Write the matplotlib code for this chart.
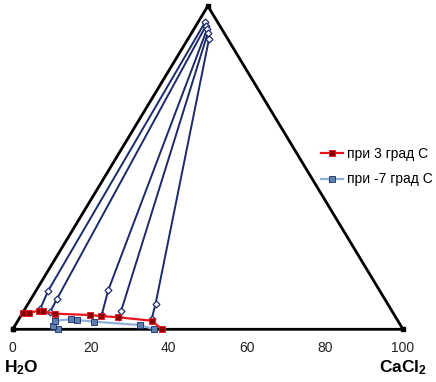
import matplotlib
matplotlib.use("Agg")
import matplotlib.pyplot as plt

plt.rcParams['font.family'] = ['Liberation Sans', 'DejaVu Sans']
plt.rcParams['mathtext.fontset'] = 'custom'
plt.rcParams['mathtext.rm'] = 'Liberation Sans:bold'
plt.rcParams['mathtext.it'] = 'Liberation Sans:bold'

# треугольник диаграммы
tri_x = [0, 100, 50, 0]
tri_y = [0, 0, 86.6, 0]

# кривая растворимости при 3 град С
red_x = [2.7, 4.3, 6.8, 7.7, 10.8, 19.8, 22.5, 27.1, 35.6, 38.3]
red_y = [4.45, 4.45, 4.98, 4.9, 4.18, 3.83, 3.56, 3.21, 2.3, 0.0]

# кривая растворимости при -7 град С
blue_x = [11.7, 10.4, 10.8, 14.9, 16.4, 20.8, 32.6, 36.2]
blue_y = [0.1, 0.96, 2.3, 2.68, 2.49, 2.04, 1.15, 0.0]

# коноды (жидкая фаза - остаток - твердая фаза)
tie_x = [[7.0, 9.1, 49.3],
         [9.6, 11.3, 49.5],
         [22.8, 24.5, 49.8],
         [27.3, 27.8, 50.0],
         [35.6, 36.6, 50.3]]
tie_y = [[5.36, 10.34, 82.3],
         [4.71, 8.04, 81.3],
         [3.83, 10.53, 80.4],
         [3.38, 4.98, 79.4],
         [2.76, 6.78, 77.8]]

ticks = [0, 20, 40, 60, 80, 100]

fig = plt.figure(figsize=(4.36, 3.82), dpi=100)
ax = fig.add_axes([12.7 / 436, 1 - 329.3 / 382, 390.3 / 436, 323.3 / 382])

ax.plot(tri_x, tri_y, color='black', lw=2, marker='s', ms=3.5, clip_on=False, zorder=2)

for tx, ty in zip(tie_x, tie_y):
    ax.plot(tx, ty, color='#1c2a6b', lw=1.4, marker='D', ms=3.5,
            mfc='white', mec='#1c2a6b', mew=0.9, clip_on=False, zorder=3)

ax.plot(red_x, red_y, color='#e8141e', lw=1.6, marker='s', ms=4.5,
        mfc='#8b0000', mec='#e8141e', mew=0.6, clip_on=False, zorder=5,
        label='при 3 град С')
ax.plot(blue_x, blue_y, color='#8fb0d8', lw=1.6, marker='s', ms=4.5,
        mfc='#5b82ad', mec='#1c2a6b', mew=0.6, clip_on=False, zorder=4,
        label='при -7 град С')

ax.set_xlim(0, 100)
ax.set_ylim(0, 86.6)
ax.set_xticks(ticks)
ax.set_yticks([])
ax.tick_params(axis='x', length=0, pad=8.5, labelsize=10, labelcolor='#222222')
for s in ax.spines.values():
    s.set_visible(False)

ax.legend(loc='center left', bbox_to_anchor=(321 / 436, 1 - 166.5 / 382),
          bbox_transform=fig.transFigure, frameon=False, fontsize=10,
          borderpad=0, borderaxespad=0, handlelength=1.6, handletextpad=0.3,
          labelspacing=0.85)

fig.text(4 / 436, 1 - 372 / 382, 'H$_2$O', fontsize=12.5, fontweight='bold',
         ha='left', va='baseline')
fig.text(379 / 436, 1 - 372 / 382, 'CaCl$_2$', fontsize=12.5, fontweight='bold',
         ha='left', va='baseline')

fig.savefig('out.png', dpi=100)
